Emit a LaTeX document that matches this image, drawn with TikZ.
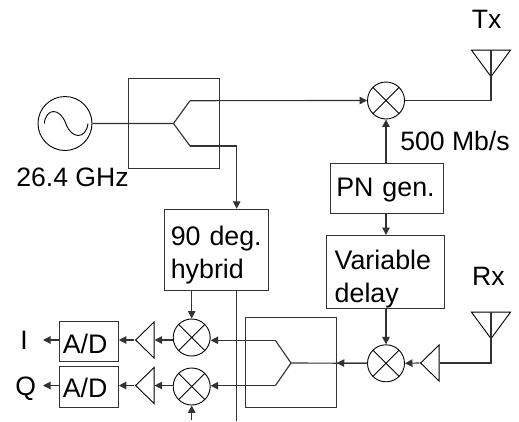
\documentclass[tikz,border=0pt]{standalone}
\usepackage{fontspec}
\setmainfont{Liberation Sans}
\usetikzlibrary{arrows.meta,shapes.geometric}
\definecolor{lnInk}{HTML}{333333}
\tikzset{
  box/.style={draw=lnInk,line width=1pt,inner ysep=0pt,align=left,text=black,font=\fontsize{26.8}{33}\selectfont},
  label/.style={inner sep=0pt,anchor=base,text=black,font=\fontsize{26.6}{32}\selectfont},
  mixer/.style={circle,draw=black,line width=.9pt,minimum size=37pt,inner sep=0pt,
    path picture={\draw[black,line width=.9pt]
      (path picture bounding box.north west) -- (path picture bounding box.south east)
      (path picture bounding box.north east) -- (path picture bounding box.south west);}},
  amp/.style={isosceles triangle,isosceles triangle stretches,shape border rotate=180,
    draw=black,line width=.9pt,inner sep=0pt,minimum height=18.5pt,minimum width=36pt},
  antenna/.style={isosceles triangle,isosceles triangle stretches,shape border rotate=-90,
    draw=black,line width=.9pt,inner sep=0pt,minimum height=26.5pt,minimum width=39pt},
  wire/.style={draw=lnInk,line width=1.15pt},
  link/.style={wire,-{Triangle[length=7.5pt,width=7.5pt]}},
}

\begin{document}
\begin{tikzpicture}[x=1pt,y=-1pt]
  \useasboundingbox (0,0) rectangle (519,421);
  % source and first splitter
  \node[circle,draw=black,line width=.9pt,minimum size=54pt,inner sep=0pt] (osc) at (65,123.5) {};
  \draw[black,line width=.9pt] (44.3,123.5) .. controls (46,107.5) and (60,107.5) .. (65.8,123.5)
    .. controls (71.5,139.5) and (86,139.5) .. (88,123.5);
  \node[label] (freq) at (72.5,186) {26.4 GHz};
  \node[box,minimum width=91pt,minimum height=90pt] (splittx) at (173.5,123) {};
  \coordinate (txfork) at (173.5,123.5);
  \coordinate (txup) at (190,100.7);
  \coordinate (txdown) at (190,146);
  % transmit side
  \node[mixer] (mixtx) at (386,100.5) {};
  \node[antenna] (anttx) at (491,60) {};
  \node[label] (tx) at (486.7,28.3) {Tx};
  \node[label] (rate) at (455,150.7) {500 Mb/s};
  \node[box,inner xsep=5.6pt,text width=101.8pt,minimum height=50pt,text height=19.5pt,text depth=3pt] (pn) at (387.2,188) {PN gen.};
  \node[box,inner xsep=8pt,text width=101.5pt,minimum height=73pt,text height=0pt,text depth=4.7pt,anchor=north west] (delay) at (326.2,235)
    {Variable\\delay};
  \node[box,inner xsep=6.5pt,text width=91.4pt,minimum height=81.5pt,text height=0pt,text depth=8.6pt] (hybrid) at (216.5,250) {90 deg.\\hybrid};
  % receive side
  \node[mixer] (mixrx) at (386,363.3) {};
  \node[amp] (amprx) at (431.5,363) {};
  \node[antenna] (antrx) at (491,322) {};
  \node[label] (rx) at (488.3,285.7) {Rx};
  \node[box,minimum width=90.5pt,minimum height=90pt] (splitrx) at (291,362.7) {};
  \coordinate (rxfork) at (291,363);
  \coordinate (rxup) at (275.3,340.3);
  \coordinate (rxdown) at (275.3,385.7);
  % I and Q outputs
  \node[mixer] (mixi) at (191.7,337.5) {};
  \node[mixer] (mixq) at (191.7,386.5) {};
  \node[amp] (ampi) at (146.5,340) {};
  \node[amp] (ampq) at (146.5,385.5) {};
  \node[box,inner xsep=3.5pt,text width=52pt,minimum height=40.5pt,text height=23.6pt,text depth=0pt] (adi) at (88.8,341.5) {A/D};
  \node[box,inner xsep=3.5pt,text width=52pt,minimum height=40.5pt,text height=21pt,text depth=0pt] (adq) at (88.8,386.8) {A/D};
  \node[label] (i) at (24,349.3) {I};
  \node[label] (q) at (25.7,395) {Q};
  \coordinate (iout) at (43,340);
  \coordinate (qout) at (43,385.5);
  \coordinate (iqlo) at (191.7,420);
  \coordinate (hybout) at (236.7,421);
  % connectors
  \draw[wire] (osc.east) -- (txfork) -- (txup);
  \draw[wire] (txfork) -- (txdown);
  \draw[link] (txup) -- (mixtx.west);
  \draw[link] (txdown) -| (hybrid.north -| hybout);
  \draw[wire] (mixtx.east) -| (anttx.apex);
  \draw[wire] (anttx.apex) -- (anttx.lower side);
  \draw[link] (pn.north -| mixtx) -- (mixtx.south);
  \draw[link] (pn.south -| mixtx) -- (delay.north -| mixtx);
  \draw[link] (delay.south -| mixrx) -- (mixrx.north);
  \draw[wire] (antrx.apex) -- (antrx.lower side);
  \draw[wire] (antrx.apex) |- (amprx.lower side);
  \draw[link] (amprx.apex) -- (mixrx.east);
  \draw[link] (mixrx.west) -- (rxfork -| splitrx.east);
  \draw[wire] (mixrx.west) -- (rxfork) -- (rxup);
  \draw[wire] (rxfork) -- (rxdown);
  \draw[link] (rxup) -- (rxup -| mixi.east);
  \draw[link] (rxdown) -- (rxdown -| mixq.east);
  \draw[link] (hybrid.south -| mixi) -- (mixi.north);
  \draw[link] (iqlo) -- (mixq.south);
  \draw[wire] (hybrid.south -| hybout) -- (hybout);
  \draw[link] (mixi.west |- ampi) -- (ampi.lower side);
  \draw[link] (mixq.west |- ampq) -- (ampq.lower side);
  \draw[link] (ampi.apex) -- (ampi.apex -| adi.east);
  \draw[link] (ampq.apex) -- (ampq.apex -| adq.east);
  \draw[link] (adi.west |- iout) -- (iout);
  \draw[link] (adq.west |- qout) -- (qout);
\end{tikzpicture}
\end{document}
